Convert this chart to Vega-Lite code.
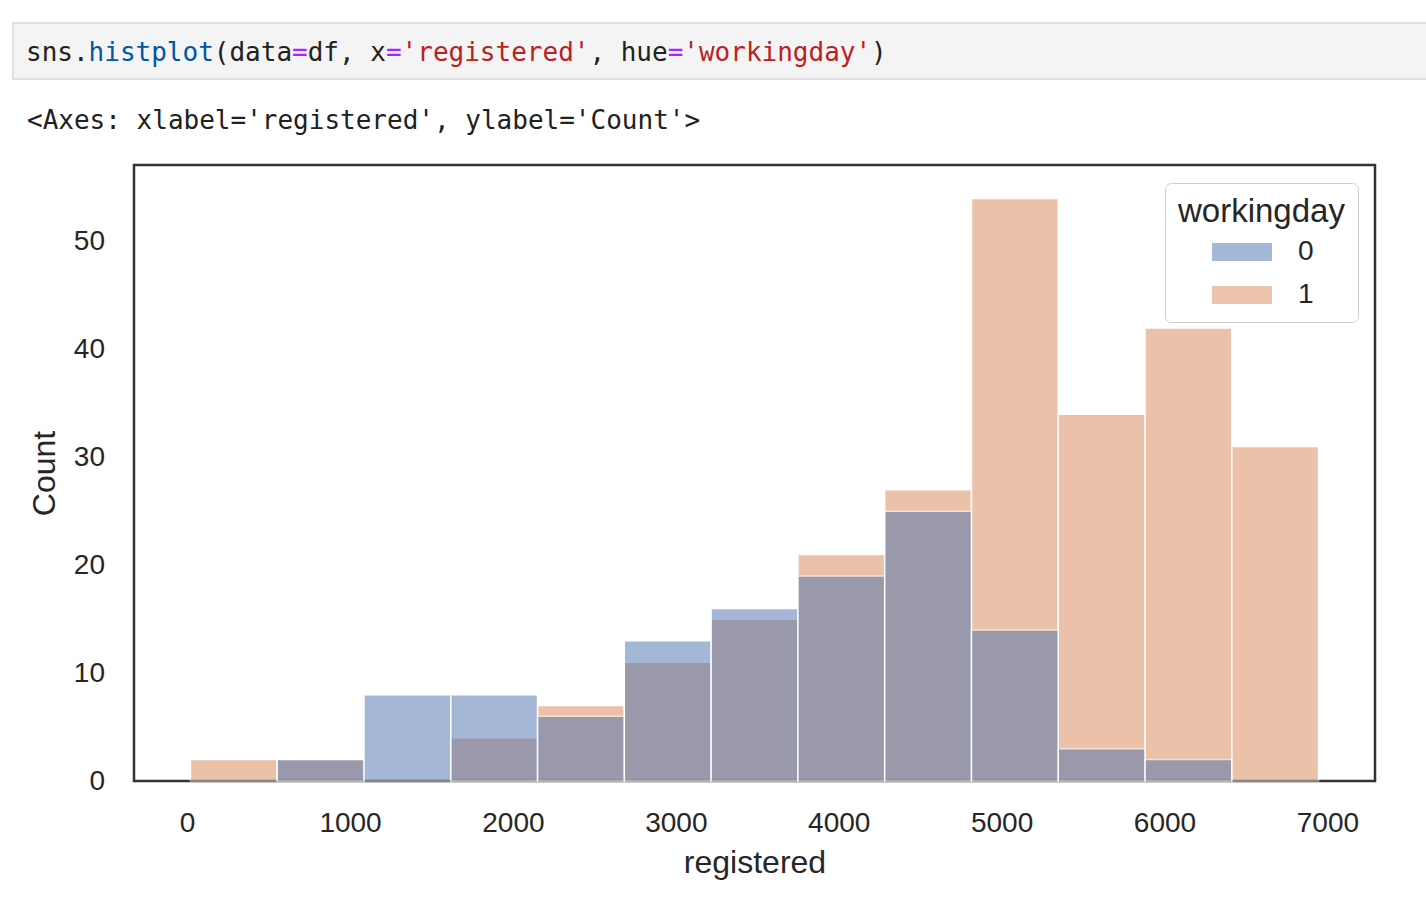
{
  "$schema": "https://vega.github.io/schema/vega-lite/v6.json",
  "padding": {"left": 12, "top": 22, "right": 0, "bottom": 0},
  "background": "white",
  "spacing": 26,
  "resolve": {"scale": {"color": "independent", "x": "independent", "y": "independent"}},
  "datasets": {
    "code": [
      {"token": "sns.", "col": 0, "kind": "plain"},
      {"token": "histplot", "col": 4, "kind": "func"},
      {"token": "(data", "col": 12, "kind": "plain"},
      {"token": "=", "col": 17, "kind": "op"},
      {"token": "df, x", "col": 18, "kind": "plain"},
      {"token": "=", "col": 23, "kind": "op"},
      {"token": "'registered'", "col": 24, "kind": "str"},
      {"token": ", hue", "col": 36, "kind": "plain"},
      {"token": "=", "col": 41, "kind": "op"},
      {"token": "'workingday'", "col": 42, "kind": "str"},
      {"token": ")", "col": 54, "kind": "plain"}
    ],
    "hist": [
      {"workingday": "1", "bin_start": 20, "bin_end": 552.77, "count": 2},
      {"workingday": "1", "bin_start": 552.77, "bin_end": 1085.54, "count": 2},
      {"workingday": "1", "bin_start": 1618.31, "bin_end": 2151.08, "count": 4},
      {"workingday": "1", "bin_start": 2151.08, "bin_end": 2683.85, "count": 7},
      {"workingday": "1", "bin_start": 2683.85, "bin_end": 3216.62, "count": 11},
      {"workingday": "1", "bin_start": 3216.62, "bin_end": 3749.38, "count": 15},
      {"workingday": "1", "bin_start": 3749.38, "bin_end": 4282.15, "count": 21},
      {"workingday": "1", "bin_start": 4282.15, "bin_end": 4814.92, "count": 27},
      {"workingday": "1", "bin_start": 4814.92, "bin_end": 5347.69, "count": 54},
      {"workingday": "1", "bin_start": 5347.69, "bin_end": 5880.46, "count": 34},
      {"workingday": "1", "bin_start": 5880.46, "bin_end": 6413.23, "count": 42},
      {"workingday": "1", "bin_start": 6413.23, "bin_end": 6946, "count": 31},
      {"workingday": "0", "bin_start": 552.77, "bin_end": 1085.54, "count": 2},
      {"workingday": "0", "bin_start": 1085.54, "bin_end": 1618.31, "count": 8},
      {"workingday": "0", "bin_start": 1618.31, "bin_end": 2151.08, "count": 8},
      {"workingday": "0", "bin_start": 2151.08, "bin_end": 2683.85, "count": 6},
      {"workingday": "0", "bin_start": 2683.85, "bin_end": 3216.62, "count": 13},
      {"workingday": "0", "bin_start": 3216.62, "bin_end": 3749.38, "count": 16},
      {"workingday": "0", "bin_start": 3749.38, "bin_end": 4282.15, "count": 19},
      {"workingday": "0", "bin_start": 4282.15, "bin_end": 4814.92, "count": 25},
      {"workingday": "0", "bin_start": 4814.92, "bin_end": 5347.69, "count": 14},
      {"workingday": "0", "bin_start": 5347.69, "bin_end": 5880.46, "count": 3},
      {"workingday": "0", "bin_start": 5880.46, "bin_end": 6413.23, "count": 2}
    ]
  },
  "vconcat": [
    {
      "width": 1414,
      "height": 56,
      "view": {"fill": "#f4f4f4", "stroke": "#e0e0e0", "strokeWidth": 2},
      "data": {"name": "code"},
      "mark": {"type": "text", "font": "DejaVu Sans Mono", "fontSize": 26, "align": "left", "baseline": "middle", "dy": 2},
      "encoding": {
        "x": {"field": "col", "type": "quantitative", "scale": {"domain": [-0.83, 89.52], "nice": false, "zero": false}, "axis": null},
        "text": {"field": "token"},
        "color": {
          "field": "kind", "type": "nominal",
          "scale": {"domain": ["plain", "func", "op", "str"], "range": ["#212121", "#0055aa", "#aa22ff", "#ba2121"]},
          "legend": null
        }
      }
    },
    {
      "spacing": 11,
      "resolve": {"scale": {"color": "independent", "x": "independent", "y": "independent"}},
      "hconcat": [
        {
          "width": 1,
          "height": 1,
          "view": {"stroke": null},
          "data": {"values": []},
          "mark": "text",
          "encoding": {"text": {"value": ""}}
        },
        {
          "width": 1241,
          "height": 616,
          "view": {"stroke": "#333333", "strokeWidth": 2.5},
          "title": {
            "text": "<Axes: xlabel='registered', ylabel='Count'>",
            "anchor": "start",
            "frame": "group",
            "align": "left",
            "dx": -107,
            "offset": 10,
            "baseline": "alphabetic",
            "font": "DejaVu Sans Mono",
            "fontSize": 26,
            "fontWeight": "normal",
            "color": "#212121"
          },
          "data": {"name": "hist"},
          "mark": {"type": "bar", "opacity": 0.5, "stroke": "white", "strokeWidth": 1.5},
          "encoding": {
            "x": {
              "field": "bin_start", "type": "quantitative",
              "scale": {"domain": [-326.3, 7292.3], "nice": false, "zero": false},
              "axis": {
                "title": "registered", "values": [0, 1000, 2000, 3000, 4000, 5000, 6000, 7000], "format": "d",
                "grid": false, "domain": false, "ticks": false, "tickSize": 0, "labelFlush": false, "labelOverlap": false,
                "labelFont": "Liberation Sans", "labelFontSize": 28, "labelColor": "#262626", "labelPadding": 28,
                "titleFont": "Liberation Sans", "titleFontSize": 32, "titleFontWeight": "normal", "titleColor": "#262626", "titlePadding": 10
              }
            },
            "x2": {"field": "bin_end"},
            "y": {
              "field": "count", "type": "quantitative", "stack": null,
              "scale": {"domain": [0, 57.1], "nice": false},
              "axis": {
                "title": "Count", "values": [0, 10, 20, 30, 40, 50],
                "grid": false, "domain": false, "ticks": false, "tickSize": 0, "labelFlush": false, "labelOverlap": false,
                "labelFont": "Liberation Sans", "labelFontSize": 28, "labelColor": "#262626", "labelPadding": 29.5,
                "titleFont": "Liberation Sans", "titleFontSize": 32, "titleFontWeight": "normal", "titleColor": "#262626", "titlePadding": 12
              }
            },
            "y2": {"datum": 0},
            "color": {
              "field": "workingday", "type": "nominal",
              "scale": {"domain": ["0", "1"], "range": ["#4c72b0", "#d88656"]},
              "legend": {
                "title": "workingday",
                "orient": "top-right",
                "offset": 17.5,
                "padding": 13,
                "fillColor": "white",
                "strokeColor": "#cccccc",
                "cornerRadius": 6,
                "titleFont": "Liberation Sans", "titleFontSize": 33, "titleFontWeight": "normal", "titleColor": "#262626", "titlePadding": 9, "titleLimit": 400,
                "labelFont": "Liberation Sans", "labelFontSize": 28, "labelColor": "#262626", "labelOffset": 42,
                "symbolType": "M-3,-0.9H3V0.9H-3Z", "symbolSize": 400, "symbolOffset": 50, "symbolStrokeWidth": 0, "symbolOpacity": 0.5,
                "rowPadding": 15
              }
            }
          }
        }
      ]
    }
  ]
}
